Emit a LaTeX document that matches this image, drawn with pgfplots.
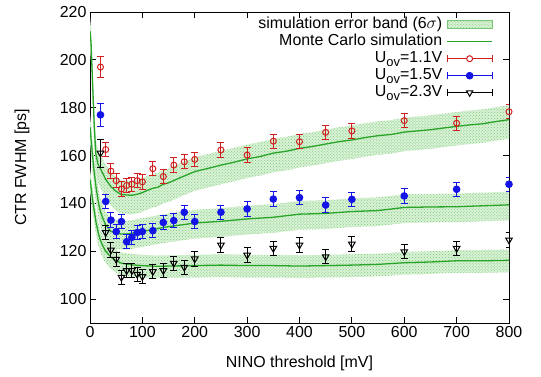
\documentclass[border=0pt]{standalone}
\usepackage{pgfplots}
\pgfplotsset{compat=1.18}
\usepackage{pgfplotstable}
\usepgfplotslibrary{fillbetween}
\usetikzlibrary{patterns}
\usepackage{fontspec}
\setmainfont{Liberation Sans}

\definecolor{gred}{RGB}{208,32,32}
\definecolor{gblue}{RGB}{20,20,230}
\definecolor{gline}{RGB}{40,165,40}
\definecolor{gbandfill}{RGB}{218,242,214}
\definecolor{gbanddot}{RGB}{120,200,120}

% Monte Carlo simulations: x, sim, band low, band high
\pgfplotstableread{
x sim lo hi
0 212 204 218
2 207 199 213
5 190 182 196
8 173 165 179
11 161 153 167
15 156.5 148.5 162.5
20 154.5 146.5 160.5
30 150 142 156
40 147 139 153
50 145 137 151
60 143.7 135.7 149.7
70 143.5 135.5 149.5
80 143.4 135.4 149.4
90 143.8 135.8 149.8
100 144.5 136.5 150.5
110 145.5 137.5 151.5
120 146.3 138.3 152.3
130 146.8 138.8 152.8
140 148 140 154
150 148.6 140.6 154.6
175 151 143 157
200 153.3 145.3 159.3
225 154.6 146.6 160.6
250 156 148 162
275 157.2 149.2 163.2
300 158.6 150.6 164.6
325 159.6 151.6 165.6
350 161 153 167
375 161.8 153.8 167.8
400 163 155 169
425 163.8 155.8 169.8
450 164.8 156.8 170.8
475 165.8 157.8 171.8
500 166.5 158.5 172.5
525 167.5 159.5 173.5
550 168.3 160.3 174.3
575 168.8 160.8 174.8
600 169.8 161.8 175.8
625 170.3 162.3 176.3
650 170.8 162.8 176.8
675 171.5 163.5 177.5
700 172.2 164.2 178.2
725 172.8 164.8 178.8
750 173.3 165.3 179.3
775 174.2 166.2 180.2
800 175 167 181
}\simred

\pgfplotstableread{
x sim lo hi
0 172 165.5 177.5
4 162 155.5 167.5
8 153 146.5 158.5
12 146 139.5 151.5
16 140.5 134 146
20 136.5 130 142
25 133.5 127 139
30 131 124.5 136.5
40 128.3 121.8 133.8
50 127.5 121 133
60 127.2 120.7 132.7
70 127.2 120.7 132.7
80 127.5 121 133
90 128 121.5 133.5
100 128.3 121.8 133.8
125 129.3 122.8 134.8
150 130.3 123.8 135.8
175 131 124.5 136.5
200 131.8 125.3 137.3
250 132.5 126 138
300 133.5 127 139
350 134.2 127.7 139.7
400 135.5 129 141
450 135.8 129.3 141.3
500 136.6 130.1 142.1
550 137 130.5 142.5
600 138.3 131.8 143.8
650 138.5 132 144
700 138.6 132.1 144.1
750 139 132.5 144.5
800 139.4 132.9 144.9
}\simblue

\pgfplotstableread{
x sim lo hi
0 150 145 154.5
4 143 138 147.5
8 137 132 141.5
12 131.5 126.5 136
16 127.5 122.5 132
20 124.5 119.5 129
25 122 117 126.5
30 120 115 124.5
40 117.5 112.5 122
50 116 111 120.5
60 115 110 119.5
80 114.3 109.3 118.8
100 114 109 118.5
125 113.7 108.7 118.2
150 113.8 108.8 118.3
200 114 109 118.5
250 114.2 109.2 118.7
300 114 109 118.5
350 114 109 118.5
400 113.8 108.8 118.3
450 114 109 118.5
500 114.2 109.2 118.7
550 114.5 109.5 119
600 115.2 110.2 119.7
650 115.5 110.5 120
700 116 111 120.5
750 116 111 120.5
800 116.2 111.2 120.7
}\simblack

% Measurements: x, CTR, error
\pgfplotstableread{
x y e
20 197 4.5
30 162.5 3
40 153.5 3
50 149.5 3
60 146 3
70 147.5 3
80 148 3
90 149.5 3
100 149 3
120 154.5 3
140 151.2 3
160 156 3
180 157.4 3
200 158.4 3
250 162.3 3.2
300 160.2 3
350 166 3
400 165.8 3
450 169.7 3
500 170.3 3
600 174.6 3
700 173.5 3
800 178.3 3
}\datred

\pgfplotstableread{
x y e
20 177 4.8
30 140.8 3
40 133 3
50 128.2 3
60 132.4 3
70 124 3
80 125.8 3
90 127.8 3
100 128.2 3
120 128.6 3
140 132 3
160 132.8 3
180 136.3 3
200 132.4 3
250 136.3 3
300 137.7 3
350 141.8 3
400 142.4 3
450 139.3 3
500 141.7 3
600 143.1 3
700 145.9 3
800 148 3
}\datblue

\pgfplotstableread{
x y e
20 161 5.8
30 127.8 3
40 120.5 3
50 116.6 3
60 109.1 3
70 111.9 3
80 111.9 3
90 110.4 3
100 109.4 3
120 111.5 3
140 111.9 3
160 115 3
180 113.3 3
200 116.8 3
250 122.6 3
300 118.4 3
350 121.2 3
400 122.6 3
450 117.7 3
500 123 3
600 119.8 3
700 121.2 3
800 124.7 3
}\datblack

\begin{document}
\begin{tikzpicture}
\begin{axis}[
  scale only axis, width=419bp, height=311bp,
  xmin=0, xmax=800, ymin=90, ymax=220,
  xtick={0,100,...,800}, ytick={100,120,...,220},
  tick align=inside, xtick pos=both, ytick pos=both,
  major tick length=6bp,
  axis line style={line width=0.9bp},
  every tick/.style={black, line width=0.9bp},
  tick label style={font=\fontsize{16}{19}\selectfont},
  /pgf/number format/assume math mode=true,
  xlabel={NINO threshold [mV]}, ylabel={CTR FWHM [ps]},
  every axis y label/.style={at={(axis description cs:-0.1623,0.5)}, rotate=90, anchor=center, font=\fontsize{16}{19}\selectfont},
  every axis x label/.style={at={(axis description cs:0.5,-0.1286)}, anchor=center, font=\fontsize{16}{19}\selectfont},
  legend style={at={(1,1)}, anchor=north east, xshift=-16bp, yshift=-4bp, draw=none, fill=none,
    font=\fontsize{16}{19}\selectfont, row sep=0pt, column sep=3bp, inner sep=0pt,
    nodes={inner sep=1.25bp, text height=11.5bp, text depth=3bp}},
  legend cell align=right, legend plot pos=right,
]
% error bands
\addplot[name path=rlo, draw=none, forget plot] table[x=x,y=lo]{\simred};
\addplot[name path=rhi, draw=none, forget plot] table[x=x,y=hi]{\simred};
\addplot[name path=blo, draw=none, forget plot] table[x=x,y=lo]{\simblue};
\addplot[name path=bhi, draw=none, forget plot] table[x=x,y=hi]{\simblue};
\addplot[name path=klo, draw=none, forget plot] table[x=x,y=lo]{\simblack};
\addplot[name path=khi, draw=none, forget plot] table[x=x,y=hi]{\simblack};
\addplot[fill=gbandfill, draw=none, forget plot] fill between[of=rlo and rhi];
\addplot[fill=gbandfill, draw=none, forget plot] fill between[of=blo and bhi];
\addplot[fill=gbandfill, draw=none, forget plot] fill between[of=klo and khi];
\addplot[pattern=crosshatch dots, pattern color=gbanddot, draw=none, forget plot] fill between[of=rlo and rhi];
\addplot[pattern=crosshatch dots, pattern color=gbanddot, draw=none, forget plot] fill between[of=blo and bhi];
\addplot[pattern=crosshatch dots, pattern color=gbanddot, draw=none, forget plot] fill between[of=klo and khi];
\addlegendimage{legend image code/.code={
    \fill[gbandfill] (0bp,-4bp) rectangle (45bp,4bp);
    \fill[pattern=crosshatch dots, pattern color=gbanddot] (0bp,-4bp) rectangle (45bp,4bp);
    \draw[gbanddot, line width=0.4bp] (0bp,-4bp) rectangle (45bp,4bp);}}
\addlegendentry{simulation error band (6$\sigma$)}
% simulation lines
\addplot[gline, line width=1.3bp, no marks,
  legend image code/.code={\draw[gline, line width=1.3bp] (0bp,0bp) -- (45bp,0bp);}]
  table[x=x,y=sim]{\simred};
\addlegendentry{Monte Carlo simulation}
\addplot[gline, line width=1.3bp, no marks, forget plot] table[x=x,y=sim]{\simblue};
\addplot[gline, line width=1.3bp, no marks, forget plot] table[x=x,y=sim]{\simblack};
% measurements
\addplot[gred, only marks, mark=o, mark size=3bp, line width=1bp,
  error bars/.cd, y dir=both, y explicit,
  error bar style={line width=1bp},
  error mark options={rotate=90, mark size=3.5bp, line width=1bp},
  /pgfplots/legend image code/.code={
    \draw[gred, line width=1bp] (0bp,0bp) -- (45bp,0bp);
    \draw[gred, line width=1bp] (0bp,-3.5bp) -- (0bp,3.5bp) (45bp,-3.5bp) -- (45bp,3.5bp);
    \draw[gred, line width=1bp, fill=white] (22.5bp,0bp) circle (3bp);}
  ] table[x=x,y=y,y error=e]{\datred};
\addlegendentry{U\raisebox{-4bp}{\fontsize{13}{14}\selectfont ov}=1.1V}
\addplot[gblue, only marks, mark=*, mark size=3.3bp, line width=1bp,
  error bars/.cd, y dir=both, y explicit,
  error bar style={line width=1bp},
  error mark options={rotate=90, mark size=3.5bp, line width=1bp},
  /pgfplots/legend image code/.code={
    \draw[gblue, line width=1bp] (0bp,0bp) -- (45bp,0bp);
    \draw[gblue, line width=1bp] (0bp,-3.5bp) -- (0bp,3.5bp) (45bp,-3.5bp) -- (45bp,3.5bp);
    \fill[gblue] (22.5bp,0bp) circle (3.3bp);}
  ] table[x=x,y=y,y error=e]{\datblue};
\addlegendentry{U\raisebox{-4bp}{\fontsize{13}{14}\selectfont ov}=1.5V}
\addplot[black, only marks, mark=triangle, mark options={rotate=180}, mark size=3.8bp, line width=1bp,
  error bars/.cd, y dir=both, y explicit,
  error bar style={line width=1bp},
  error mark options={rotate=90, mark size=3.5bp, line width=1bp},
  /pgfplots/legend image code/.code={
    \draw[black, line width=1bp] (0bp,0bp) -- (45bp,0bp);
    \draw[black, line width=1bp] (0bp,-3.5bp) -- (0bp,3.5bp) (45bp,-3.5bp) -- (45bp,3.5bp);
    \draw[black, line width=1bp, fill=white] (22.5bp,-3.6bp) -- (25.6bp,1.8bp) -- (19.4bp,1.8bp) -- cycle;}
  ] table[x=x,y=y,y error=e]{\datblack};
\addlegendentry{U\raisebox{-4bp}{\fontsize{13}{14}\selectfont ov}=2.3V}
\coordinate (sw) at (rel axis cs:0,0);
\coordinate (ne) at (rel axis cs:1,1);
\end{axis}
\path (sw) ++(-90bp,-54bp) coordinate (bba);
\path (ne) ++(32bp,12bp) coordinate (bbb);
\useasboundingbox (bba) rectangle (bbb);
\end{tikzpicture}
\end{document}
